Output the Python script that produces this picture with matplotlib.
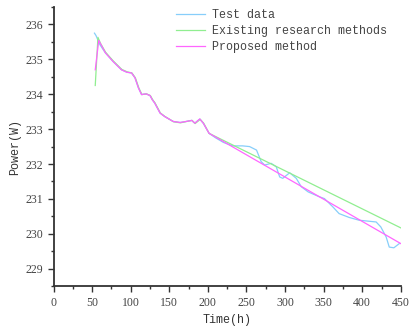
import matplotlib
matplotlib.use("Agg")
import matplotlib.pyplot as plt
from matplotlib.ticker import MultipleLocator

# test data (h, W)
test_t = [53, 55, 60, 67, 77, 88, 95, 101, 105.5, 110, 114, 120, 125, 128, 131, 138, 144,
          155, 164, 172, 179, 183, 189.5, 194, 201.5, 210, 220, 232, 245, 254, 263, 269,
          273.5, 282, 288.6, 293, 297, 306, 314.5, 321, 330, 344.6, 351, 362, 370, 383,
          396, 418, 424, 431, 435, 441, 448]
test_p = [235.75, 235.68, 235.42, 235.19, 234.94, 234.70, 234.63, 234.61, 234.47, 234.18,
          233.99, 234.01, 233.96, 233.84, 233.75, 233.46, 233.36, 233.22, 233.19, 233.22,
          233.25, 233.17, 233.29, 233.17, 232.88, 232.75, 232.62, 232.52, 232.52, 232.50,
          232.40, 232.07, 231.97, 232.02, 231.92, 231.63, 231.59, 231.75, 231.59, 231.35,
          231.20, 231.06, 231.01, 230.77, 230.58, 230.47, 230.39, 230.34, 230.20, 229.91,
          229.62, 229.60, 229.72]

# existing research methods
exist_t = [54, 57.5, 61, 67.5, 77.5, 88.5, 95.5, 101.5, 106, 110.5, 114.5, 120.5, 125.5,
           128.5, 131.5, 138.5, 144.5, 155.5, 164.5, 172.5, 179.5, 183.5, 190, 194.5, 201.5, 450]
exist_p = [234.25, 235.63, 235.45, 235.20, 234.95, 234.71, 234.64, 234.61, 234.47, 234.18,
           233.99, 234.01, 233.96, 233.84, 233.75, 233.46, 233.36, 233.21, 233.18, 233.22,
           233.25, 233.16, 233.28, 233.17, 232.88, 230.17]

# proposed method
prop_t = [54, 58.5, 61, 67, 77, 88, 95, 101, 105.5, 110, 114, 120, 125, 128, 131, 138, 144,
          155, 164, 172, 179, 183, 189.5, 194, 201.5, 450]
prop_p = [234.70, 235.54, 235.44, 235.19, 234.94, 234.70, 234.63, 234.61, 234.47, 234.18,
          233.99, 234.01, 233.96, 233.84, 233.75, 233.46, 233.36, 233.22, 233.19, 233.22,
          233.25, 233.17, 233.29, 233.17, 232.88, 229.72]

fig = plt.figure(figsize=(4.09, 3.32), dpi=100)
ax = fig.add_axes([0.131, 0.138, 0.849, 0.841])

ax.plot(test_t, test_p, color="#87cefa", lw=0.9, label="Test data")
ax.plot(exist_t, exist_p, color="#90ee90", lw=0.9, label="Existing research methods")
ax.plot(prop_t, prop_p, color="#ff66ff", lw=0.9, label="Proposed method")

ax.set_xlim(0, 450)
ax.set_ylim(228.5, 236.5)
ax.xaxis.set_major_locator(MultipleLocator(50))
ax.xaxis.set_minor_locator(MultipleLocator(25))
ax.yaxis.set_major_locator(MultipleLocator(1))
ax.yaxis.set_minor_locator(MultipleLocator(0.5))

for s in ["top", "right"]:
    ax.spines[s].set_visible(False)
for s in ["left", "bottom"]:
    ax.spines[s].set_color("#333333")
    ax.spines[s].set_linewidth(1.3)

ax.tick_params(which="major", direction="out", length=4, width=1, colors="#333333",
               labelsize=8.5)
ax.tick_params(which="minor", direction="out", length=2, width=1, colors="#333333")
for lab in ax.get_xticklabels() + ax.get_yticklabels():
    lab.set_family("Liberation Serif")
    lab.set_color("#444444")

ax.set_xlabel("Time(h)", family="Liberation Mono", fontsize=8.5, color="#333333", labelpad=4)
ax.set_ylabel("Power(W)", family="Liberation Mono", fontsize=8.5, color="#333333", labelpad=3)

leg = ax.legend(loc="upper left", bbox_to_anchor=(170 / 409, 1 - 3 / 332),
                bbox_transform=fig.transFigure, frameon=False, borderpad=0,
                handlelength=2.5, handletextpad=0.6, labelspacing=0.35,
                prop={"family": "Liberation Mono", "size": 8.4})
for t in leg.get_texts():
    t.set_color("#444444")

fig.savefig("out.png", dpi=100)
